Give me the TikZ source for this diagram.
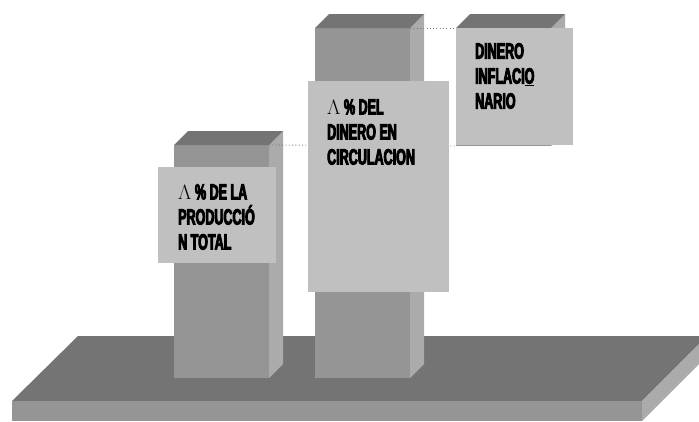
\documentclass[tikz,border=0pt]{standalone}
\usepackage{fontspec}
\newfontfamily\lblfont[FakeStretch=0.57,FakeBold=4]{Liberation Sans Bold}
\usetikzlibrary{positioning}
\definecolor{topgray}{HTML}{747474}
\definecolor{frontgray}{HTML}{959595}
\definecolor{sidegray}{HTML}{ABABAB}
\definecolor{boxgray}{HTML}{C0C0C0}
\definecolor{dotgray}{HTML}{7A7A7A}

\tikzset{
  lblbox/.style={fill=boxgray, anchor=north west, inner sep=0pt},
  lbltext/.style={inner sep=0pt, align=left,
                  font=\lblfont\fontsize{22}{25}\selectfont},
  guide/.style={dotgray, line width=0.9pt, dash pattern=on 0.9pt off 2.4pt}
}

\begin{document}
\begin{tikzpicture}[x=1pt,y=-1pt]
  \useasboundingbox (0,0) rectangle (699,421);

  % base plate
  \fill[topgray] (78,336) -- (707,336) -- (642,401) -- (12,401) -- cycle;
  \fill[frontgray] (12,401) rectangle (642,421);
  \fill[sidegray] (642,401) -- (707,336) -- (707,356) -- (642,421) -- cycle;

  % pillars
  \foreach \n/\l/\r/\t/\b in {prod/174/269/145/378, circ/315/410/28/378, infl/456/551/28/146} {
    \fill[frontgray] (\l,\t) rectangle (\r,\b);
    \fill[sidegray] (\r,\t) -- (\r+14,\t-14) -- (\r+14,\b-14) -- (\r,\b) -- cycle;
    \fill[topgray] (\l,\t) -- (\l+14,\t-14) -- (\r+14,\t-14) -- (\r,\t) -- cycle;
    \coordinate (\n-ne) at (\r,\t);
    \coordinate (\n-nw) at (\l,\t);
    \coordinate (\n-sw) at (\l,\b);
  }

  \draw[guide] (prod-ne) -- (infl-sw);
  \draw[guide] (circ-ne) -- (infl-nw);

  % labels
  \node[lblbox, minimum width=118pt, minimum height=96pt] (prodbox) at (158,167) {};
  \node[lbltext, below right=17pt and 20pt of prodbox.north west] (prodtext)
    {$\Lambda$ \% DE LA\\PRODUCCIÓ\\N TOTAL};

  \node[lblbox, minimum width=141pt, minimum height=211pt] (circbox) at (308,81) {};
  \node[lbltext, below right=18pt and 19pt of circbox.north west] (circtext)
    {$\Lambda$ \% DEL\\DINERO EN\\CIRCULACION};

  \node[lblbox, minimum width=117pt, minimum height=117pt] (inflbox) at (456,28) {};
  \node[lbltext, below right=15pt and 19pt of inflbox.north west] (infltext)
    {DINERO\\INFLACI\underline{O}\\NARIO};
\end{tikzpicture}
\end{document}
